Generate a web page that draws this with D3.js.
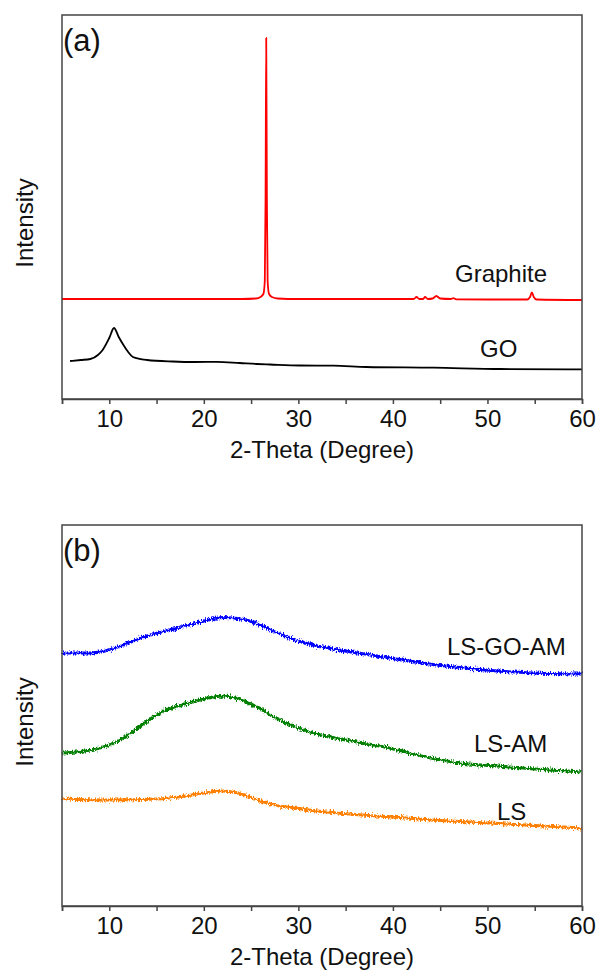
<!DOCTYPE html>
<html>
<head>
<meta charset="utf-8">
<script src="https://cdn.jsdelivr.net/npm/d3@7"></script>
<style>
  html, body { margin: 0; padding: 0; background: #fff; }
  svg text { font-family: "Liberation Sans", Arial, sans-serif; fill: #111; }
</style>
</head>
<body>
<svg id="chart" width="598" height="970"></svg>
<script>
// XRD patterns, intensities in arbitrary units

// panel (a)
const graphite = [
  [5, 100], [10, 100], [15, 100], [20, 100], [24, 100], [25.5, 100.5], [26.0, 102],
  [26.3, 105], [26.45, 118], [26.53, 200], [26.6, 361], [26.67, 200], [26.75, 118],
  [26.9, 105], [27.2, 102], [27.8, 100.5], [30, 100], [35, 100], [40, 100],
  [42.2, 100], [42.5, 102], [42.8, 100], [43.2, 100], [43.4, 102], [43.7, 100],
  [44.2, 100.5], [44.6, 103], [45.0, 100.5], [46.1, 100], [46.4, 100.8], [46.7, 99.6],
  [50, 99.5], [54.2, 99.5], [54.5, 102], [54.7, 106.5], [54.9, 102], [55.2, 99.5], [60, 99]
];
const go = [
  [5.85, 38], [7, 39], [8, 40], [8.8, 44], [9.3, 49], [10, 61], [10.5, 71], [11, 62],
  [11.5, 54], [12, 47], [12.5, 42], [14, 39], [16.7, 37.5], [19, 37], [21.4, 37.2],
  [23.8, 36], [25.6, 35], [27, 34.5], [30.2, 33.5], [33.7, 33.3], [37.2, 32],
  [44.3, 31.3], [51.4, 30], [60, 29.7]
];

// panel (b)
const lsGoAm = [
  [5, 253], [8, 253], [10, 256], [12, 263], [14, 270], [16, 275], [18, 280], [20, 285],
  [22, 288.5], [24, 287], [26, 281], [28, 272], [30, 265], [32, 260], [35, 255],
  [39, 249], [43, 243], [47, 238.5], [51, 235], [55, 233], [60, 232]
];
const lsAm = [
  [5, 153], [8, 156], [10, 161], [12, 171], [14, 185], [16, 196], [18, 202], [20, 207],
  [22, 210], [24, 206], [26, 197], [28, 186], [30, 178], [32, 172], [35, 166],
  [38, 161], [41, 155], [44, 148], [47, 143], [51, 140], [55, 137], [60, 134]
];
const ls = [
  [5, 107], [10, 106], [15, 107], [18, 110], [20, 113], [22, 115], [24, 112], [26, 105],
  [28, 100], [30, 97.5], [33, 94], [36, 91.5], [40, 89], [44, 86], [48, 84], [52, 82],
  [56, 80], [60, 78]
];

const xTicks = [5, 10, 15, 20, 25, 30, 35, 40, 45, 50, 55, 60];

const panels = [
  {
    tag: "(a)", top: 15, bottom: 399, yMax: 384, noisy: false,
    series: [
      { data: graphite, color: "#ff0000", label: "Graphite", lx: 455, ly: 282 },
      { data: go, color: "#000000", label: "GO", lx: 480, ly: 357 }
    ],
    ylabelY: 223
  },
  {
    tag: "(b)", top: 525, bottom: 906, yMax: 381, noisy: true,
    series: [
      { data: lsGoAm, color: "#0000ff", label: "LS-GO-AM", lx: 447, ly: 655 },
      { data: lsAm, color: "#008000", label: "LS-AM", lx: 474, ly: 752 },
      { data: ls, color: "#ff8000", label: "LS", lx: 497, ly: 820 }
    ],
    ylabelY: 722
  }
];

const svg = d3.select("#chart");
const left = 62, right = 582;

// jagged look of the raw scans in (b)
const defs = svg.append("defs");
const f = defs.append("filter").attr("id", "jitter")
  .attr("x", "-2%").attr("y", "-30%").attr("width", "104%").attr("height", "160%");
f.append("feTurbulence").attr("type", "fractalNoise").attr("baseFrequency", "1.4 0.35")
  .attr("numOctaves", 2).attr("seed", 7).attr("result", "n");
f.append("feDisplacementMap").attr("in", "SourceGraphic").attr("in2", "n")
  .attr("scale", 6).attr("xChannelSelector", "R").attr("yChannelSelector", "G");

const x = d3.scaleLinear().domain([5, 60]).range([left, right]);

panels.forEach(p => {
  const y = d3.scaleLinear().domain([0, p.yMax]).range([p.bottom, p.top]);
  const g = svg.append("g");

  const line = d3.line()
    .x(d => x(d[0]))
    .y(d => y(d[1]))
    .curve(d3.curveMonotoneX);

  p.series.forEach(s => {
    g.append("path")
      .datum(s.data)
      .attr("fill", "none")
      .attr("stroke", s.color)
      .attr("stroke-width", p.noisy ? 3 : 1.8)
      .attr("stroke-linejoin", "round")
      .attr("filter", p.noisy ? "url(#jitter)" : null)
      .attr("d", line);

    g.append("text")
      .attr("x", s.lx).attr("y", s.ly)
      .attr("font-size", 24)
      .text(s.label);
  });

  // frame
  g.append("rect")
    .attr("x", left).attr("y", p.top)
    .attr("width", right - left).attr("height", p.bottom - p.top)
    .attr("fill", "none").attr("stroke", "#444").attr("stroke-width", 1.5);

  const ax = g.append("g")
    .attr("transform", `translate(0,${p.bottom})`)
    .call(d3.axisBottom(x).tickValues(xTicks).tickSize(5).tickPadding(6)
      .tickFormat(d => d % 10 === 0 ? d : ""));
  ax.select(".domain").attr("stroke", "#444").attr("stroke-width", 1.5);
  ax.selectAll(".tick line").attr("stroke", "#444").attr("stroke-width", 1.5);
  ax.selectAll(".tick text")
    .attr("font-size", 24)
    .attr("font-family", "Liberation Sans, Arial, sans-serif")
    .attr("fill", "#111");

  g.append("text")
    .attr("x", (left + right) / 2)
    .attr("y", p.bottom + 59)
    .attr("text-anchor", "middle")
    .attr("font-size", 24)
    .text("2-Theta (Degree)");

  g.append("text")
    .attr("transform", `translate(33,${p.ylabelY}) rotate(-90)`)
    .attr("text-anchor", "middle")
    .attr("font-size", 24)
    .text("Intensity");

  g.append("text")
    .attr("x", 63).attr("y", p.top + 36)
    .attr("font-size", 31)
    .text(p.tag);
});
</script>
</body>
</html>
